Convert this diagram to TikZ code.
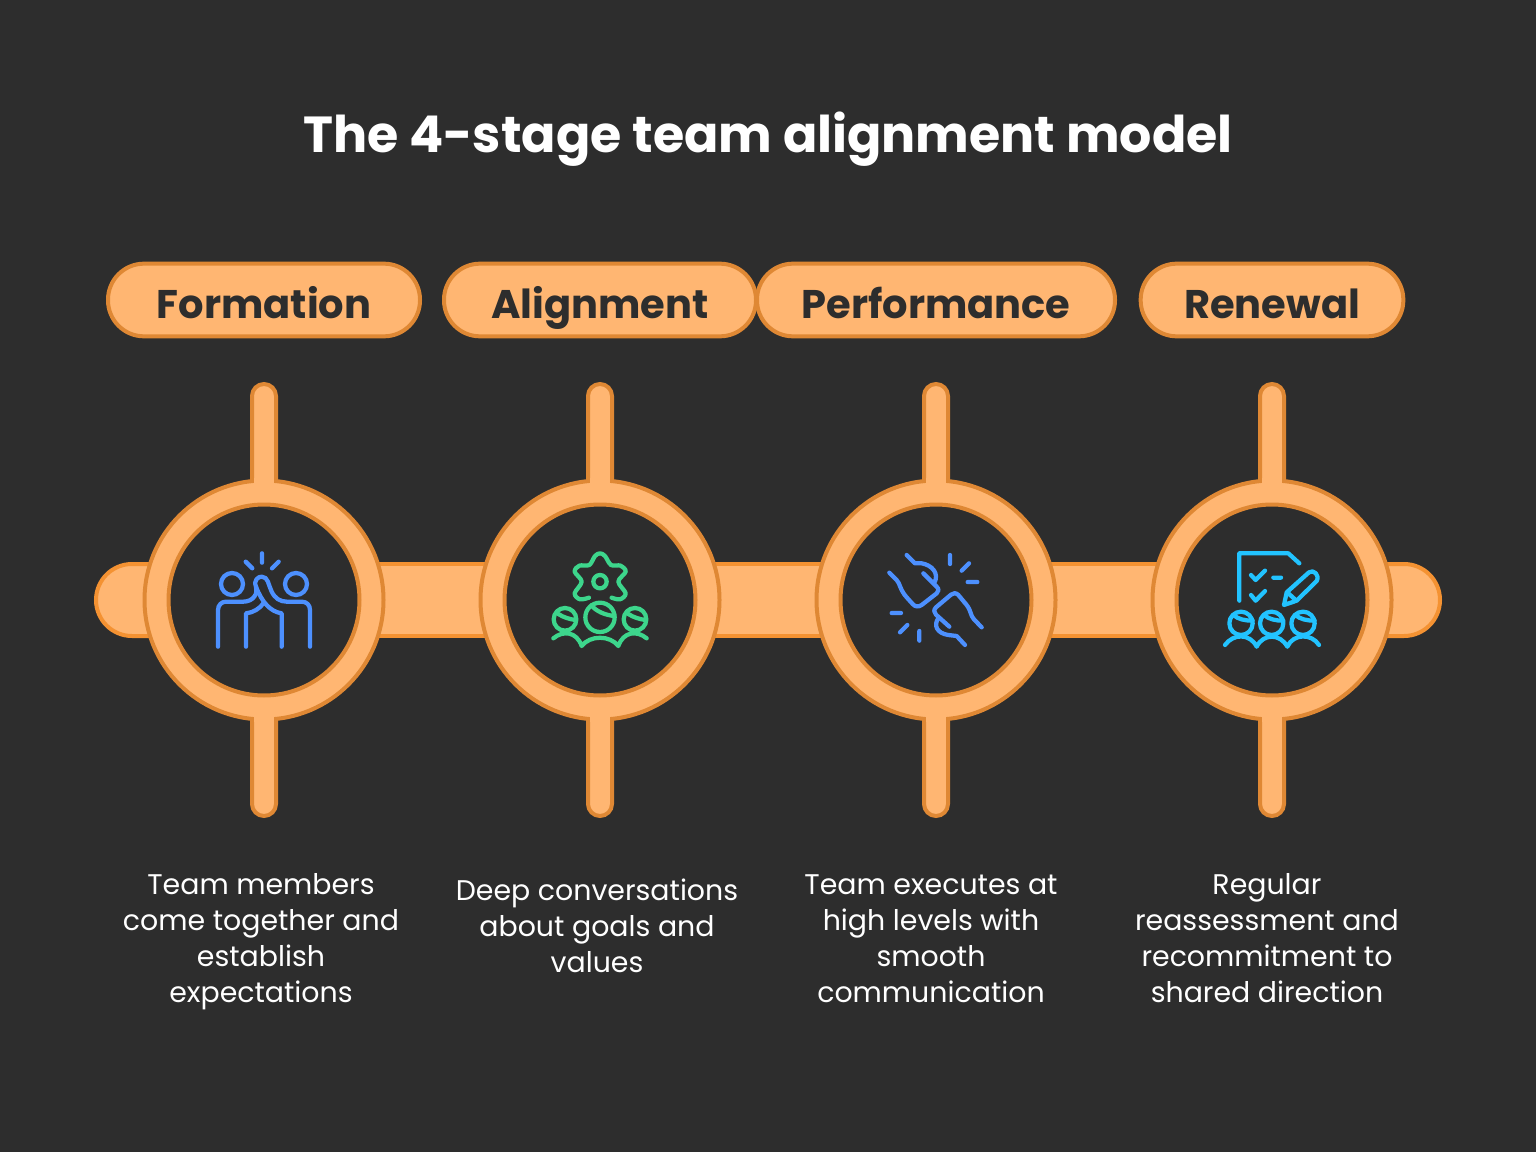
\documentclass[tikz,border=0pt]{standalone}
\usepackage{fontspec}
\setmainfont{Poppins}
\definecolor{bgc}{HTML}{2D2D2D}
\definecolor{fillc}{HTML}{FFB672}
\definecolor{edgec}{HTML}{DF8834}
\definecolor{edgeb}{HTML}{F49232}
\definecolor{blueic}{HTML}{4D90FE}
\definecolor{greenic}{HTML}{3DD68C}
\definecolor{cyanic}{HTML}{22C3FF}
\tikzset{
  barshape/.style={fill=fillc,draw=edgec,line width=3pt},
  hbar/.style={fill=fillc,draw=edgeb,line width=3pt},
  pill/.style={fill=fillc,draw=edgec,line width=3pt,rounded corners=27pt,minimum height=54.5pt,inner sep=0pt},
  pilltext/.style={text=bgc,font=\fontsize{30}{30}\selectfont\bfseries,inner sep=0pt,anchor=base},
  desc/.style={text=white,align=center,font=\fontsize{21.3}{27}\selectfont,inner sep=0pt,anchor=north},
  ic/.style={line width=3.2pt,line cap=round,line join=round},
  iconunits/.style={x=0.25pt,y=-0.25pt}
}
\begin{document}
\begin{tikzpicture}[x=0.75pt,y=-0.75pt]
\useasboundingbox (0,0) rectangle (1536,1152);
\fill[bgc] (0,0) rectangle (1536,1152);
\node[text=white,font=\fontsize{38}{38}\selectfont\bfseries,inner sep=0pt,anchor=base] (title) at (768,153) {The 4-stage team alignment model};
% horizontal band
\draw[hbar] (150,564) -- (132,564) arc[start angle=270,end angle=90,radius=36] -- (150,636);
\draw[hbar] (1386,564) -- (1404,564) arc[start angle=-90,end angle=90,radius=36] -- (1386,636);
\foreach \xa in {370,706,1042}{
  \fill[fillc] (\xa,564) rectangle (\xa+124,636);
  \draw[edgeb,line width=3pt] (\xa,564) -- (\xa+124,564) (\xa,636) -- (\xa+124,636);
}
% stages
\foreach \cx in {264,600,936,1272}{
  \draw[barshape] (\cx-12,490) -- (\cx-12,396) arc[start angle=180,end angle=360,radius=12] -- (\cx+12,490);
  \draw[barshape] (\cx-12,710) -- (\cx-12,804) arc[start angle=180,end angle=0,radius=12] -- (\cx+12,710);
  \fill[bgc] (\cx,600) circle[radius=95.5];
  \fill[fillc,even odd rule] (\cx,600) circle[radius=119.5] (\cx,600) circle[radius=95.5];
  \draw[edgec,line width=3pt] (\cx,600) circle[radius=119.5] (\cx,600) circle[radius=95.5];
  \fill[fillc] (\cx-10,478) rectangle (\cx+10,486);
  \fill[fillc] (\cx-10,714) rectangle (\cx+10,722);
}
% pills
\node[pill,minimum width=234pt] (p1) at (264,300) {};
\node[pill,minimum width=234pt] (p2) at (600,300) {};
\node[pill,minimum width=268.5pt] (p3) at (936,300) {};
\node[pill,minimum width=197pt] (p4) at (1272,300) {};
\node[pilltext] (l1) at (264,318) {Formation};
\node[pilltext] (l2) at (600,318) {Alignment};
\node[pilltext] (l3) at (936,318) {Performance};
\node[pilltext] (l4) at (1272,318) {Renewal};
% descriptions
\node[desc] (d1) at (261,869) {\strut Team members\\come together and\\establish\\expectations};
\node[desc] (d2) at (597,875) {\strut Deep conversations\\about goals and\\values};
\node[desc] (d3) at (931,869) {\strut Team executes at\\high levels with\\smooth\\communication};
\node[desc] (d4) at (1267,869) {\strut Regular\\reassessment and\\recommitment to\\shared direction};
% icon 1
\begin{scope}[shift={(190,530)},iconunits,ic,draw=blueic]
\draw (216,70)--(216,98) (167,95)--(187,115) (266,95)--(246,115);
\draw (126,162) circle[radius=33] (318,162) circle[radius=33];
\draw (84,350)--(84,240) .. controls (84,225) and (95,215) .. (108,215) -- (160,215) .. controls (190,215) and (205,190) .. (198,170) .. controls (190,150) and (205,140) .. (215,140) .. controls (235,140) and (235,165) .. (245,185) .. controls (255,205) and (270,215) .. (290,215) -- (335,215) .. controls (350,215) and (360,225) .. (360,240) -- (360,350);
\draw (168,350)--(168,250) .. controls (190,248) and (210,235) .. (220,220);
\draw (275,350)--(275,250) .. controls (240,245) and (215,215) .. (198,170);
\end{scope}
% icon 2
\begin{scope}[shift={(530,530)},iconunits,ic,draw=greenic]
\draw plot[smooth,tension=0.55] coordinates {(177,203) (150,208) (134,190) (155,155) (134,125) (148,107) (178,105) (195,78) (210,70) (225,78) (243,105) (272,107) (287,125) (265,155) (287,190) (270,208) (245,203)};
\draw (210,155) circle[radius=20];
\draw (105,268) circle[radius=34] (210,262) circle[radius=44] (315,268) circle[radius=34];
\draw (85,252) .. controls (100,262) and (120,268) .. (137,270);
\draw (184,226) .. controls (200,245) and (225,255) .. (253,258);
\draw (295,252) .. controls (310,262) and (330,268) .. (347,270);
\draw (70,325) .. controls (100,300) and (140,305) .. (155,348) .. controls (180,315) and (240,315) .. (265,348) .. controls (280,305) and (320,300) .. (350,325);
\end{scope}
% icon 3
\begin{scope}[shift={(870,530)},iconunits,ic,draw=blueic]
\draw (240,75)--(240,102) (297,100)--(275,122) (293,156)--(322,156) (65,249)--(93,249) (112,285)--(90,307) (148,303)--(148,332);
\draw (110,75)--(135,100) -- (155,100) .. controls (185,105) and (210,130) .. (192,160);
\draw (160,130)--(200,170) .. controls (208,178) and (206,184) .. (200,190) -- (155,225) .. controls (145,232) and (135,230) .. (128,222) -- (110,202) .. controls (90,180) and (90,160) .. (80,150) -- (58,128);
\draw (335,292)--(312,268) .. controls (300,255) and (305,245) .. (290,225) -- (265,195) .. controls (258,188) and (250,188) .. (243,194) -- (198,232) .. controls (190,240) and (192,248) .. (198,254) -- (238,290);
\draw (205,265) .. controls (190,285) and (200,310) .. (235,315) -- (260,318) -- (285,345);
\end{scope}
% icon 4
\begin{scope}[shift={(1205,530)},iconunits,ic,draw=cyanic]
\draw (103,212)--(103,70)--(250,70)--(283,100);
\draw (138,135)--(152,150)--(180,122) (138,195)--(152,212)--(180,183) (205,143)--(228,143);
\draw (237,225)--(245,187)--(312,127) .. controls (325,117) and (345,135) .. (335,153) -- (275,212) -- cycle;
\draw (250,190)--(272,210);
\draw (108,280) circle[radius=35] (200,280) circle[radius=35] (294,280) circle[radius=35];
\draw (85,255) .. controls (100,268) and (120,272) .. (143,272);
\draw (177,255) .. controls (192,268) and (212,272) .. (235,272);
\draw (271,255) .. controls (286,268) and (306,272) .. (329,272);
\draw (60,345) .. controls (85,310) and (135,310) .. (155,350) .. controls (175,310) and (225,310) .. (247,350) .. controls (265,310) and (320,310) .. (342,345);
\end{scope}
\end{tikzpicture}
\end{document}
